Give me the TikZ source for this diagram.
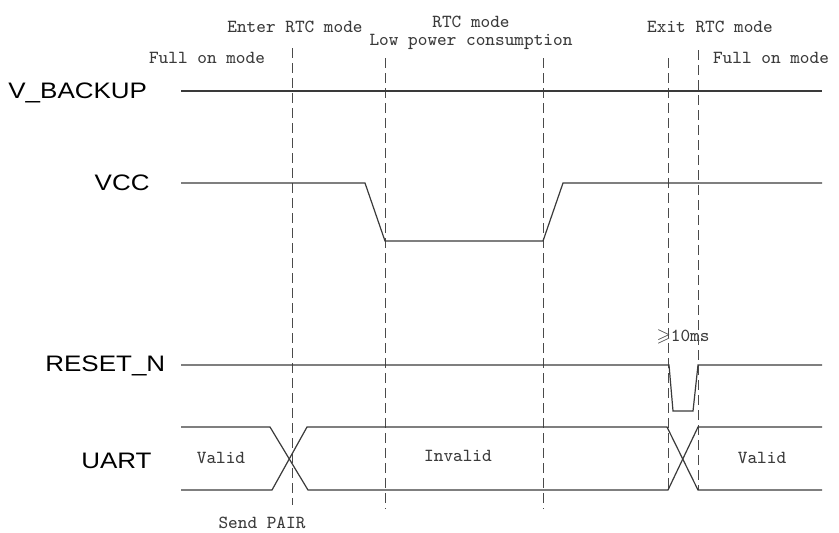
\documentclass[tikz,border=0pt]{standalone}
\usepackage{fontspec,amssymb}
\setsansfont{Liberation Sans}
\usetikzlibrary{positioning}
\definecolor{wave}{HTML}{3A3A3A}
\definecolor{guide}{HTML}{4A4A4A}
\newcommand{\widen}[1]{\scalebox{1.16}[1]{#1}}
\tikzset{sig/.style={draw=wave,line width=0.6pt},guideline/.style={draw=guide,line width=0.5pt,dash pattern=on 5pt off 2.5pt},signame/.style={font=\sffamily\fontsize{11.2}{13}\selectfont,inner sep=0pt},note/.style={font=\ttfamily\fontsize{9.2}{11}\selectfont,text=wave,inner sep=0pt}}

\begin{document}
\begin{tikzpicture}[x=0.5pt,y=-0.5pt]
\useasboundingbox (0,0) rectangle (839,532);
\node[signame,anchor=base west] (vbackup) at (8,98) {\widen{V\_BACKUP}};
\node[signame,anchor=base east] (vcc) at (150,190) {\widen{VCC}};
\node[signame,anchor=base west] (resetn) at (45,371) {\widen{RESET\_N}};
\node[signame,anchor=base east] (uart) at (152,468) {\widen{UART}};
\node[note] (fullL) at (207,58) {Full on mode};
\node[note] (enter) at (295,27) {Enter RTC mode};
\node[note] (rtc) at (471,22) {RTC mode};
\node[note,below=3pt of rtc] (lowpow) {Low power consumption};
\node[note] (exit) at (710,27) {Exit RTC mode};
\node[note] (fullR) at (771,58) {Full on mode};
\node[note] (tmin) at (683,337) {$\geqslant$10ms};
\node[note] (validL) at (221,458) {Valid};
\node[note] (invalid) at (458,456) {Invalid};
\node[note] (validR) at (762,458) {Valid};
\node[note] (pair) at (262,523) {Send PAIR};
% mode boundaries
\foreach \gx/\gt/\gb in {292/48/505,385/58/509,543/58/509,668/58/492,698/50/490}
  \draw[guideline] (\gx,\gt) -- (\gx,\gb);
% waveforms
\draw[sig] (181,91) -- (822,91);
\draw[sig] (181,183) -- (365,183) -- (385,241) -- (543,241) -- (563,183) -- (822,183);
\draw[sig] (181,365) -- (669,365) -- (673,411) -- (693,411) -- (698,365) -- (822,365);
\draw[sig] (181,427) -- (270,427) -- (308,490) -- (668,490) -- (698,427) -- (822,427);
\draw[sig] (181,490) -- (272,490) -- (307,427) -- (667,427) -- (698,490) -- (822,490);
\end{tikzpicture}
\end{document}
